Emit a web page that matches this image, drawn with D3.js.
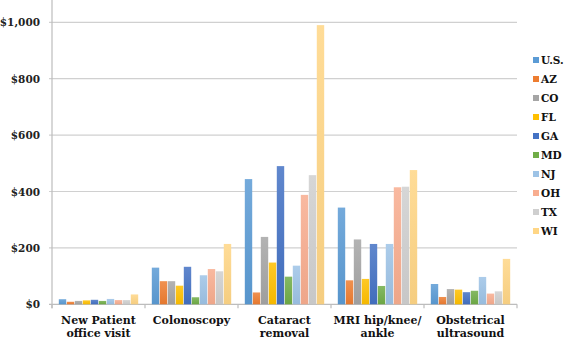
<!DOCTYPE html>
<html><head><meta charset="utf-8">
<script src="https://cdn.jsdelivr.net/npm/d3@7"></script>
<style>body{margin:0;background:#fff;} svg{display:block;}</style>
</head><body><svg id="c" width="570" height="341"></svg>
<script>
const categories = [["New Patient","office visit"],["Colonoscopy"],["Cataract","removal"],["MRI hip/knee/","ankle"],["Obstetrical","ultrasound"]];
const seriesNames = ["U.S.","AZ","CO","FL","GA","MD","NJ","OH","TX","WI"];
const seriesColors = ["#5B9BD5","#ED7D31","#A5A5A5","#FFC000","#4472C4","#70AD47","#9DC3E6","#F8AD8F","#CFCFCF","#FFD685"];
const values = {
  "U.S.": [18,130,444,343,72],
  "AZ":   [9,82,42,85,26],
  "CO":   [12,82,239,230,54],
  "FL":   [14,66,148,90,52],
  "GA":   [16,133,490,214,43],
  "MD":   [12,25,98,65,48],
  "NJ":   [19,103,137,214,97],
  "OH":   [15,125,388,415,38],
  "TX":   [15,117,458,417,46],
  "WI":   [35,214,990,476,161]
};
const yTicks = [0,200,400,600,800,1000];

const FONT = "'DejaVu Serif', serif";
const svg = d3.select("#c").attr("font-family", FONT).attr("font-weight","bold");
const pLeft = 52, pRight = 517, pTop = 22.3, pBottom = 304.3;
const y = d3.scaleLinear().domain([0,1000]).range([pBottom, pTop]);
const x0 = d3.scaleBand().domain(d3.range(categories.length)).range([pLeft, pRight]).padding(0);
const gw = x0.bandwidth();
const x1 = d3.scaleBand().domain(seriesNames).range([gw*0.07, gw*0.93]).padding(0);

const defs = svg.append("defs");
seriesColors.forEach((c,i)=>{
  const g = defs.append("linearGradient").attr("id","g"+i).attr("x1",0).attr("x2",0).attr("y1",0).attr("y2",1);
  g.append("stop").attr("offset","0%").attr("stop-color", d3.interpolateRgb(c,"#fff")(0.15));
  g.append("stop").attr("offset","100%").attr("stop-color", d3.interpolateRgb(c,"#000")(0.04));
});

svg.append("g").selectAll("line").data(yTicks).join("line")
  .attr("x1", pLeft-3).attr("x2", pRight).attr("y1", d=>y(d)).attr("y2", d=>y(d))
  .attr("stroke", d=> d===0 ? "#bdbdbd" : "#d0d0d0").attr("stroke-width", 1.2);

svg.append("line").attr("x1",pLeft).attr("x2",pLeft).attr("y1",0).attr("y2",pBottom+4)
  .attr("stroke","#bdbdbd").attr("stroke-width",1.2);

svg.append("g").selectAll("line").data(d3.range(categories.length+1)).join("line")
  .attr("x1", d=> pLeft + d*gw).attr("x2", d=> pLeft + d*gw)
  .attr("y1", pBottom).attr("y2", pBottom+4).attr("stroke","#bdbdbd").attr("stroke-width",1.2);

svg.append("g").selectAll("text").data(yTicks).join("text")
  .attr("x", 40).attr("y", d=>y(d)+4).attr("text-anchor","end")
  .attr("font-size", 10.5).attr("fill","#222")
  .text(d=> "$" + d3.format(",")(d));

const groups = svg.append("g").selectAll("g").data(categories).join("g")
  .attr("transform",(d,i)=>`translate(${x0(i)},0)`);
groups.each(function(cat, ci){
  d3.select(this).selectAll("rect").data(seriesNames).join("rect")
    .attr("x", s=> x1(s)+0.3).attr("width", x1.bandwidth()-0.6)
    .attr("y", s=> y(values[s][ci])).attr("height", s=> pBottom - y(values[s][ci]))
    .attr("fill", (s,si)=>`url(#g${si})`);
});

groups.each(function(cat){
  d3.select(this).append("text").attr("x", gw/2).attr("y", 324).attr("text-anchor","middle")
    .attr("font-size", 11).attr("fill","#111")
    .selectAll("tspan").data(cat).join("tspan").attr("x", gw/2).attr("dy",(d,i)=> i===0?0:13).text(d=>d);
});

const lg = svg.append("g").selectAll("g").data(seriesNames).join("g")
  .attr("transform",(d,i)=>`translate(533,${60 + i*19})`);
lg.append("rect").attr("x",0).attr("y",-3).attr("width",6).attr("height",6).attr("fill",(d,i)=>seriesColors[i]);
lg.append("text").attr("x",8).attr("y",4).attr("font-size",10.5).attr("fill","#111").text(d=>d);
</script></body></html>
